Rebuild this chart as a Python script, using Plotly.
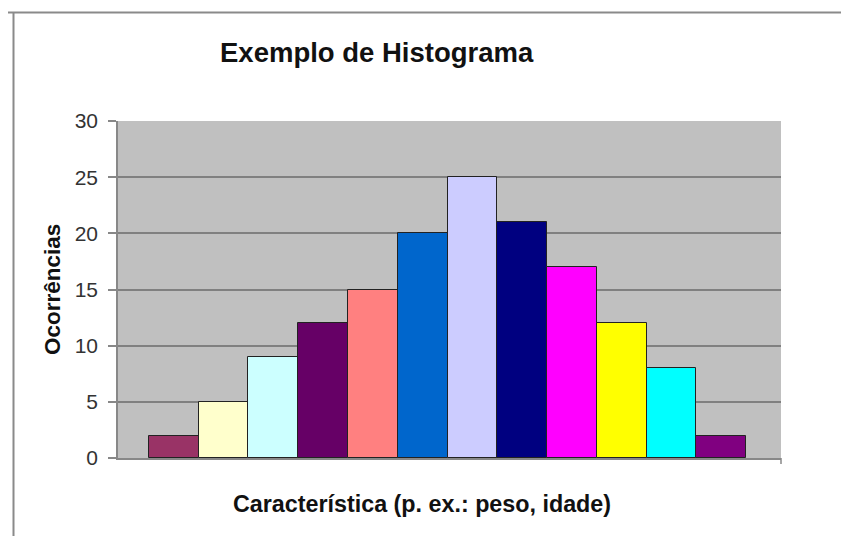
import plotly.graph_objects as go

categories = list(range(1, 13))
values = [2, 5, 9, 12, 15, 20, 25, 21, 17, 12, 8, 2]
colors = ["#993366", "#FFFFCC", "#CCFFFF", "#660066", "#FF8080", "#0066CC",
          "#CCCCFF", "#000080", "#FF00FF", "#FFFF00", "#00FFFF", "#800080"]
y_ticks = [0, 5, 10, 15, 20, 25, 30]

W, H = 841, 536
L, R, T, B = 118, 781, 121, 458
pw, ph = R - L, B - T

def px(x):
    return (x - L) / pw

def py(y):
    return (B - y) / ph

fig = go.Figure()
fig.add_trace(go.Bar(
    x=categories, y=values, width=1,
    marker=dict(color=colors, line=dict(color="#222222", width=1)),
    hoverinfo="y",
))

font_main = "Liberation Sans, Arial, sans-serif"

fig.update_layout(
    width=W, height=H,
    margin=dict(l=L, r=W - R, t=T, b=H - B, pad=0),
    paper_bgcolor="white",
    plot_bgcolor="#C0C0C0",
    showlegend=False,
    bargap=0,
    font=dict(family=font_main, color="#222222"),
    xaxis=dict(
        range=[-0.12, 13.2], showticklabels=False, showgrid=False,
        zeroline=False, showline=True, linecolor="#888888", linewidth=1.5,
        ticks="", fixedrange=True,
    ),
    yaxis=dict(
        range=[0, 30], tickvals=y_ticks, ticktext=[str(v) for v in y_ticks],
        showgrid=True, gridcolor="#808080", gridwidth=1.8,
        zeroline=False, showline=True, linecolor="#888888", linewidth=1.5,
        ticks="outside", ticklen=8, tickcolor="#888888", tickwidth=1.5,
        tickfont=dict(size=21, color="#333333", family=font_main),
        ticklabelstandoff=6, fixedrange=True,
    ),
    annotations=[
        dict(text="<b>Exemplo de Histograma</b>", x=px(377), y=py(53),
             xref="paper", yref="paper", showarrow=False,
             font=dict(size=27.5, color="#111111", family=font_main),
             xanchor="center", yanchor="middle"),
        dict(text="<b>Ocorrências</b>", x=px(52), y=py(290),
             xref="paper", yref="paper", showarrow=False, textangle=-90,
             font=dict(size=22.5, color="#111111", family=font_main),
             xanchor="center", yanchor="middle"),
        dict(text="<b>Característica (p. ex.: peso, idade)</b>", x=px(422), y=py(504),
             xref="paper", yref="paper", showarrow=False,
             font=dict(size=23.3, color="#111111", family=font_main),
             xanchor="center", yanchor="middle"),
    ],
    shapes=[
        dict(type="line", xref="paper", yref="paper",
             x0=px(8), x1=px(841), y0=py(12.5), y1=py(12.5),
             line=dict(color="#8a8a8a", width=2)),
        dict(type="line", xref="paper", yref="paper",
             x0=px(13.5), x1=px(13.5), y0=py(12.5), y1=py(536),
             line=dict(color="#8a8a8a", width=2)),
        dict(type="line", xref="paper", yref="paper",
             x0=1, x1=1, y0=py(458), y1=py(464),
             line=dict(color="#888888", width=1.5)),
    ],
)

fig.write_html("out.html")
